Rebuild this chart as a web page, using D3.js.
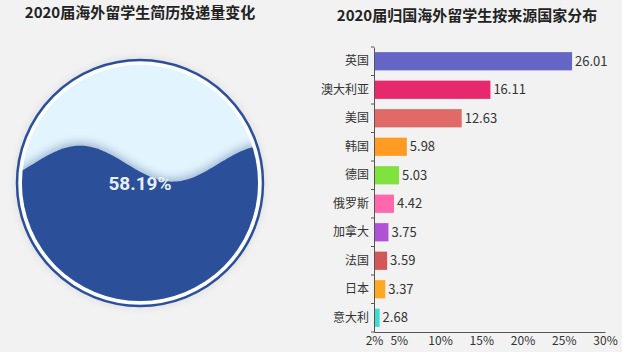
<!DOCTYPE html>
<html>
<head>
<meta charset="utf-8">
<style>
  body { margin: 0; background: #f2f2f2; font-family: "Noto Sans CJK SC", "Noto Sans", sans-serif; }
  svg { display: block; }
</style>
</head>
<body>
<script src="https://d3js.org/d3.v7.min.js"></script>
<script>
  // left: liquid fill
  const leftTitle = '2020届海外留学生简历投递量变化';
  const fillValue = 58.19;

  // right: bar chart
  const rightTitle = '2020届归国海外留学生按来源国家分布';
  const countries = ['英国', '澳大利亚', '美国', '韩国', '德国', '俄罗斯', '加拿大', '法国', '日本', '意大利'];
  const shares = [26.01, 16.11, 12.63, 5.98, 5.03, 4.42, 3.75, 3.59, 3.37, 2.68];
  const barColors = ['#6565c6', '#e6286c', '#e06a68', '#ff9a22', '#80e23c', '#ff68ac', '#b052d6', '#d25858', '#ffa824', '#40dcd0'];
  const xTicks = [2, 5, 10, 15, 20, 25, 30];

  const W = 622, H = 352;
  const svg = d3.select('body').append('svg').attr('width', W).attr('height', H);

  const defs = svg.append('defs');
  const blur = defs.append('filter').attr('id', 'soft').attr('x', '-20%').attr('y', '-20%').attr('width', '140%').attr('height', '140%');
  blur.append('feGaussianBlur').attr('stdDeviation', 4);

  // ---------- liquid fill ----------
  const cx = 140, cy = 183, outerR = 123, innerR = 118;
  svg.append('text')
    .attr('x', 140).attr('y', 18)
    .attr('text-anchor', 'middle')
    .attr('font-size', 15).attr('font-weight', 'bold').attr('fill', '#222')
    .text(leftTitle);

  svg.append('circle')
    .attr('cx', cx).attr('cy', cy).attr('r', outerR + 2)
    .attr('fill', '#000').attr('opacity', 0.08).attr('filter', 'url(#soft)');
  svg.append('circle')
    .attr('cx', cx).attr('cy', cy).attr('r', outerR)
    .attr('fill', '#fbfdff').attr('stroke', '#2c4f9c').attr('stroke-width', 2.5);
  svg.append('circle')
    .attr('cx', cx).attr('cy', cy).attr('r', innerR)
    .attr('fill', '#e2f4fd');

  defs.append('clipPath').attr('id', 'innerClip')
    .append('circle').attr('cx', cx).attr('cy', cy).attr('r', innerR);

  const levelY = d3.scaleLinear().domain([0, 100]).range([cy + innerR, cy - innerR]);
  const waveLen = 185, amp = 18, phase = 80;
  const xs = d3.range(cx - innerR - 5, cx + innerR + 6, 2);
  const wave = d3.area()
    .x(d => d)
    .y0(cy + innerR + 5)
    .y1(d => levelY(fillValue) - amp * Math.cos((d - phase) / waveLen * 2 * Math.PI))
    .curve(d3.curveBasis);

  const liquid = svg.append('g').attr('clip-path', 'url(#innerClip)');
  liquid.append('path').datum(xs).attr('d', wave)
    .attr('fill', '#1c3f80').attr('opacity', 0.35).attr('filter', 'url(#soft)')
    .attr('transform', 'translate(0,-3)');
  liquid.append('path').datum(xs).attr('d', wave).attr('fill', '#2b4f99');

  svg.append('text')
    .attr('x', cx).attr('y', cy + 7)
    .attr('text-anchor', 'middle')
    .attr('font-family', 'Roboto, "Noto Sans", sans-serif')
    .attr('font-size', 19).attr('font-weight', 'bold').attr('fill', '#e6eef9')
    .text(fillValue.toFixed(2) + '%');

  // ---------- bar chart ----------
  svg.append('text')
    .attr('x', 467).attr('y', 21)
    .attr('text-anchor', 'middle')
    .attr('font-size', 15).attr('font-weight', 'bold').attr('fill', '#222')
    .text(rightTitle);

  const x = d3.scaleLinear().domain([2, 30]).range([374, 605]);
  const y = d3.scaleBand().domain(countries).range([47, 332]).paddingInner(0.36).paddingOuter(0.18);
  const color = d3.scaleOrdinal().domain(countries).range(barColors);
  const data = countries.map((c, i) => ({ name: c, value: shares[i] }));

  svg.append('g').selectAll('rect')
    .data(data)
    .join('rect')
    .attr('x', x(2))
    .attr('y', d => y(d.name))
    .attr('width', d => x(d.value) - x(2))
    .attr('height', y.bandwidth())
    .attr('fill', d => color(d.name));

  svg.append('g').selectAll('text')
    .data(data)
    .join('text')
    .attr('x', d => x(d.value) + 3)
    .attr('y', d => y(d.name) + y.bandwidth() / 2)
    .attr('dy', '0.36em')
    .attr('font-size', 13).attr('fill', '#333')
    .text(d => d.value.toFixed(2));

  const yAxis = svg.append('g')
    .attr('transform', `translate(${x(2)},0)`)
    .call(d3.axisLeft(y).tickSize(0).tickPadding(5));
  yAxis.select('.domain').attr('stroke', '#555');
  yAxis.selectAll('text').attr('font-size', 12).attr('fill', '#333').attr('font-family', '"Noto Sans CJK SC", sans-serif');

  // small boundary ticks between categories
  const step = y.step();
  svg.append('g').selectAll('line')
    .data(d3.range(countries.length + 1))
    .join('line')
    .attr('x1', x(2) - 3).attr('x2', x(2))
    .attr('y1', i => 47 + i * step).attr('y2', i => 47 + i * step)
    .attr('stroke', '#555');

  const xAxis = svg.append('g')
    .attr('transform', 'translate(0,332)')
    .call(d3.axisBottom(x).tickValues(xTicks).tickFormat(d => d + '%').tickSize(0).tickPadding(4));
  xAxis.select('.domain').attr('stroke', '#555');
  xAxis.selectAll('text').attr('font-size', 12).attr('fill', '#333').attr('font-family', '"Noto Sans CJK SC", sans-serif');
</script>
</body>
</html>
